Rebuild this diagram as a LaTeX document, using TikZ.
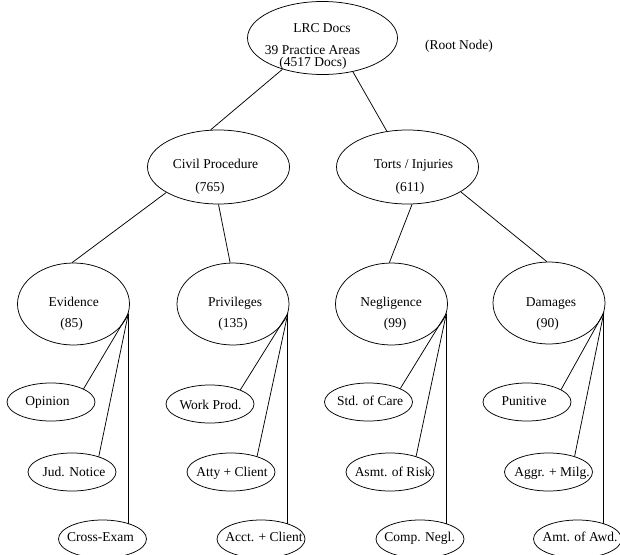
\documentclass[tikz,border=0pt]{standalone}
\usepackage{fontspec}
\setmainfont{Liberation Serif}
\usetikzlibrary{shapes.geometric}
\begin{document}
\begin{tikzpicture}[x=1pt,y=-1pt, line width=0.75pt,
  ell/.style={draw, ellipse, inner sep=0pt},
  rootbox/.style={ell, minimum width=150pt, minimum height=73pt},
  midbox/.style={ell, minimum width=142pt, minimum height=74pt},
  bigbox/.style={ell, minimum width=112pt, minimum height=82pt},
  leafbox/.style={ell, minimum width=88pt, minimum height=38pt},
  txt/.style={inner sep=0pt, text height=0.75em, text depth=0.15em, font=\fontsize{13.5}{16}\selectfont},
  conn/.style={draw}]
\useasboundingbox (0,0) rectangle (620,554);
% ellipses
\node[rootbox] (root) at (322.5,38) {};
\node[midbox] (civ) at (218.5,167) {};
\node[midbox] (tor) at (407.5,167) {};
\node[bigbox] (ev) at (73.5,304) {};
\node[bigbox] (pr) at (233,304) {};
\node[bigbox] (ne) at (391.5,304) {};
\node[bigbox] (da) at (549,303) {};
\node[leafbox] (op) at (51,402) {};
\node[leafbox] (jn) at (72,472) {};
\node[leafbox] (ce) at (102.5,539) {};
\node[leafbox] (wp) at (210,404) {};
\node[leafbox] (ac) at (231,472) {};
\node[leafbox] (acc) at (261,539) {};
\node[leafbox] (sc) at (368.5,402) {};
\node[leafbox] (ar) at (390,472) {};
\node[leafbox] (cn) at (420,539) {};
\node[leafbox] (pu) at (527,402) {};
\node[leafbox] (am) at (548.5,472) {};
\node[leafbox] (aw) at (577.5,539) {};
% texts
\node[txt] (root-a) at (322,29) {LRC Docs};
\node[txt] (root-b) at (312.5,51) {39 Practice Areas};
\node[txt] (root-c) at (313,63) {(4517 Docs)};
\node[txt] (rootnote) at (459,46) {(Root Node)};
\node[txt] (civ-a) at (215.5,165) {Civil Procedure};
\node[txt] (civ-b) at (210,188) {(765)};
\node[txt] (tor-a) at (413.5,165) {Torts / Injuries};
\node[txt] (tor-b) at (410,188) {(611)};
\node[txt] (ev-a) at (73.7,303) {Evidence};
\node[txt] (ev-b) at (71.7,324) {(85)};
\node[txt] (pr-a) at (235,303) {Privileges};
\node[txt] (pr-b) at (233,324) {(135)};
\node[txt] (ne-a) at (391,303) {Negligence};
\node[txt] (ne-b) at (395,324) {(99)};
\node[txt] (da-a) at (551,303) {Damages};
\node[txt] (da-b) at (547.5,324) {(90)};
\node[txt] (op-t) at (47.5,402) {Opinion};
\node[txt] (jn-t) at (74,473) {Jud. Notice};
\node[txt] (ce-t) at (100.5,538) {Cross-Exam};
\node[txt] (wp-t) at (210.5,406) {Work Prod.};
\node[txt] (ac-t) at (232,473) {Atty + Client};
\node[txt] (acc-t) at (264,538) {Acct. + Client};
\node[txt] (sc-t) at (370,402) {Std. of Care};
\node[txt] (ar-t) at (393,473) {Asmt. of Risk};
\node[txt] (cn-t) at (419.5,538) {Comp. Negl.};
\node[txt] (pu-t) at (524,402) {Punitive};
\node[txt] (am-t) at (552,473) {Aggr. + Milg.};
\node[txt] (aw-t) at (580,538) {Amt. of Awd.};
% connectors
\draw[conn] (root.218) -- (civ.102);
\draw[conn] (root.312) -- (tor.120);
\draw[conn] (civ.206) -- (ev.92);
\draw[conn] (civ.270) -- (pr.94);
\draw[conn] (tor.277) -- (ne.93);
\draw[conn] (tor.335) -- (da.93);
\draw[conn] (ev.350) -- (op.22);
\draw[conn] (ev.350) -- (jn.30);
\draw[conn] (ev.350) -- (ev.350 |- ce.30);
\draw[conn] (pr.350) -- (wp.25);
\draw[conn] (pr.350) -- (ac.31);
\draw[conn] (pr.350) -- (pr.350 |- acc.30);
\draw[conn] (ne.350) -- (sc.23);
\draw[conn] (ne.350) -- (ar.31);
\draw[conn] (ne.350) -- (ne.350 |- cn.30);
\draw[conn] (da.350) -- (pu.20);
\draw[conn] (da.350) -- (am.31);
\draw[conn] (da.350) -- (da.350 |- aw.30);
\end{tikzpicture}
\end{document}
